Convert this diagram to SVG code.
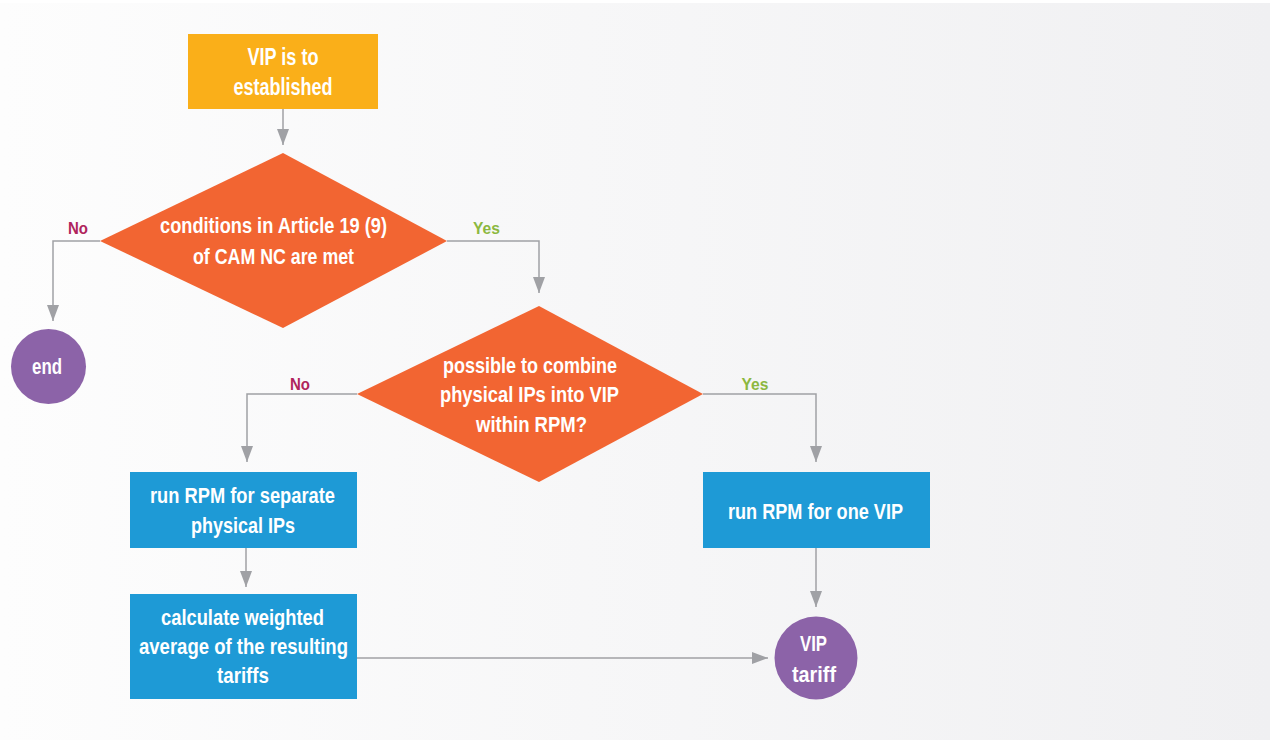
<svg xmlns="http://www.w3.org/2000/svg" width="1270" height="740" viewBox="0 0 1270 740">
<defs>
<linearGradient id="bg" x1="0" y1="0" x2="1" y2="0">
<stop offset="0" stop-color="#fdfdfd"/>
<stop offset="1" stop-color="#f0f0f2"/>
</linearGradient>
<marker id="ah" viewBox="0 0 16 12" refX="16" refY="6" markerWidth="16" markerHeight="12" markerUnits="userSpaceOnUse" orient="auto">
<path d="M0,0 L16,6 L0,12 z" fill="#a0a1a5"/>
</marker>
<style>
.t{font-family:"Liberation Sans Narrow","Liberation Sans",Arial,sans-serif;font-weight:bold;fill:#ffffff;text-anchor:middle;font-size:22px}
.tb{font-size:23.5px}
.lbl{font-family:"Liberation Sans Narrow","Liberation Sans",Arial,sans-serif;font-weight:bold;font-size:17px;text-anchor:middle}
.no{fill:#b0245c}
.yes{fill:#8cb83f}
.c{fill:none;stroke:#a0a1a5;stroke-width:1.5;marker-end:url(#ah)}
.start{fill:#faaf19}
.dec{fill:#f26532}
.proc{fill:#1e9ad6}
.term{fill:#8c63a8}
</style>
</defs>
<rect x="0" y="0" width="1270" height="740" fill="#ffffff"/>
<rect x="0" y="3" width="1270" height="737" fill="url(#bg)"/>

<g id="connectors">
<path class="c" d="M283 109 V145"/>
<path class="c" d="M100 241 H53 V321"/>
<path class="c" d="M447 241 H539 V293"/>
<path class="c" d="M357 394 H247 V462"/>
<path class="c" d="M703 394 H816 V462"/>
<path class="c" d="M246 548 V587"/>
<path class="c" d="M816 548 V607"/>
<path class="c" d="M357 658 H768"/>
<text class="lbl no" x="78" y="234" textLength="20" lengthAdjust="spacingAndGlyphs">No</text>
<text class="lbl yes" x="486.5" y="234" textLength="27" lengthAdjust="spacingAndGlyphs">Yes</text>
<text class="lbl no" x="300" y="390" textLength="20" lengthAdjust="spacingAndGlyphs">No</text>
<text class="lbl yes" x="755" y="390" textLength="27" lengthAdjust="spacingAndGlyphs">Yes</text>
</g>

<g id="start">
<rect class="start" x="188" y="34" width="190" height="75"/>
<text class="t tb" x="283" y="65" textLength="71" lengthAdjust="spacingAndGlyphs">VIP is to</text>
<text class="t tb" x="283" y="95" textLength="99" lengthAdjust="spacingAndGlyphs">established</text>
</g>

<g id="decision1">
<polygon class="dec" points="283,153 447,241 283,328 100,241"/>
<text class="t" x="273.5" y="233" textLength="227" lengthAdjust="spacingAndGlyphs">conditions in Article 19 (9)</text>
<text class="t" x="273.5" y="264" textLength="161" lengthAdjust="spacingAndGlyphs">of CAM NC are met</text>
</g>

<g id="end">
<circle class="term" cx="48.5" cy="366.5" r="37.5"/>
<text class="t" x="47" y="374" textLength="30" lengthAdjust="spacingAndGlyphs">end</text>
</g>

<g id="decision2">
<polygon class="dec" points="539,306 703,394 539,482 357,394"/>
<text class="t" x="530" y="373" textLength="174" lengthAdjust="spacingAndGlyphs">possible to combine</text>
<text class="t" x="529.5" y="402" textLength="179" lengthAdjust="spacingAndGlyphs">physical IPs into VIP</text>
<text class="t" x="531.5" y="432" textLength="111" lengthAdjust="spacingAndGlyphs">within RPM?</text>
</g>

<g id="separate">
<rect class="proc" x="130" y="472" width="227" height="76"/>
<text class="t" x="242.5" y="503" textLength="185" lengthAdjust="spacingAndGlyphs">run RPM for separate</text>
<text class="t" x="243" y="533" textLength="104" lengthAdjust="spacingAndGlyphs">physical IPs</text>
</g>

<g id="weighted">
<rect class="proc" x="130" y="594" width="227" height="105"/>
<text class="t" x="242.5" y="625" textLength="163" lengthAdjust="spacingAndGlyphs">calculate weighted</text>
<text class="t" x="243.5" y="654" textLength="209" lengthAdjust="spacingAndGlyphs">average of the resulting</text>
<text class="t" x="243" y="683" textLength="52" lengthAdjust="spacingAndGlyphs">tariffs</text>
</g>

<g id="onevip">
<rect class="proc" x="703" y="472" width="227" height="76"/>
<text class="t" x="815.5" y="519" textLength="175" lengthAdjust="spacingAndGlyphs">run RPM for one VIP</text>
</g>

<g id="viptariff">
<circle class="term" cx="816" cy="658" r="41.5"/>
<text class="t" x="813.5" y="651" textLength="27" lengthAdjust="spacingAndGlyphs">VIP</text>
<text class="t" x="814" y="682" textLength="44" lengthAdjust="spacingAndGlyphs">tariff</text>
</g>
</svg>
